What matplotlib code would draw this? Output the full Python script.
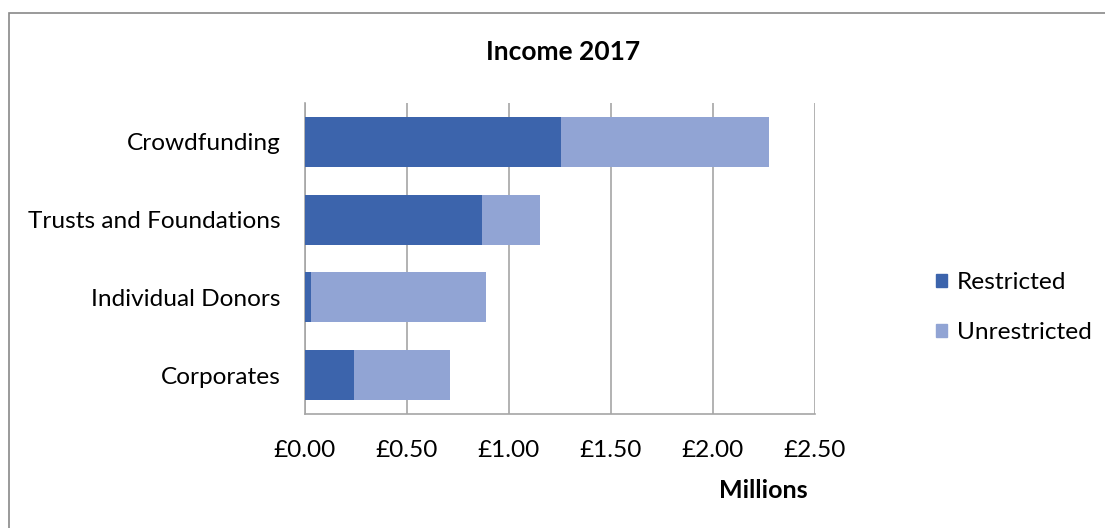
import matplotlib
matplotlib.use("Agg")
import matplotlib.pyplot as plt
from matplotlib.patches import Rectangle, Patch

categories = ["Crowdfunding", "Trusts and Foundations", "Individual Donors", "Corporates"]
restricted = [1.256, 0.871, 0.030, 0.241]
unrestricted = [1.018, 0.284, 0.861, 0.473]
xticks = [0.0, 0.5, 1.0, 1.5, 2.0, 2.5]
xticklabels = ["£0.00", "£0.50", "£1.00", "£1.50", "£2.00", "£2.50"]

c_res = "#3c64ac"
c_unr = "#91a4d4"
grid_c = "#a6a6a6"

plt.rcParams['font.family'] = ['Lato', 'DejaVu Sans']

W, H = 1105, 528
fig = plt.figure(figsize=(W/100, H/100), dpi=100)
ax = fig.add_axes([304.5/W, 1-414/H, (815-304.5)/W, (414-103)/H])

y = list(range(len(categories)))
ax.barh(y, restricted, height=0.645, color=c_res, label="Restricted", zorder=3)
ax.barh(y, unrestricted, left=restricted, height=0.645, color=c_unr, label="Unrestricted", zorder=3)

fs = 17.6
ax.set_xlim(0, 2.5)
ax.set_ylim(len(categories)-0.5, -0.5)
ax.set_yticks(y)
ax.set_yticklabels(categories, fontsize=fs)
ax.set_xticks(xticks)
ax.set_xticklabels(xticklabels, fontsize=fs)
ax.tick_params(axis='both', length=0)
ax.tick_params(axis='y', pad=17)
ax.tick_params(axis='x', pad=19)
ax.xaxis.grid(True, color=grid_c, linewidth=1.2, zorder=0)
for s in ['top', 'right']:
    ax.spines[s].set_visible(False)
for s in ['left', 'bottom']:
    ax.spines[s].set_color(grid_c)
    ax.spines[s].set_linewidth(1.2)

fig.text(563/W, 1-52/H, "Income 2017", fontsize=19, fontweight='bold', ha='center', va='center')
fig.text(763/W, 1-491/H, "Millions", fontsize=18, fontweight='bold', ha='center', va='center')

handles = [Patch(color=c_res, label="Restricted"), Patch(color=c_unr, label="Unrestricted")]
fig.legend(handles=handles, loc='center left', bbox_to_anchor=(936/W, 1-307.5/H), frameon=False,
           fontsize=fs, handlelength=0.45, handleheight=0.45, handletextpad=0.41,
           labelspacing=1.2, borderpad=0, borderaxespad=0)

fig.patches.append(Rectangle((9/W, -0.1), 1.2, 1-13/H+0.1, transform=fig.transFigure,
                             fill=False, edgecolor="#898989", linewidth=1.2))

fig.savefig("out.png", dpi=100)
